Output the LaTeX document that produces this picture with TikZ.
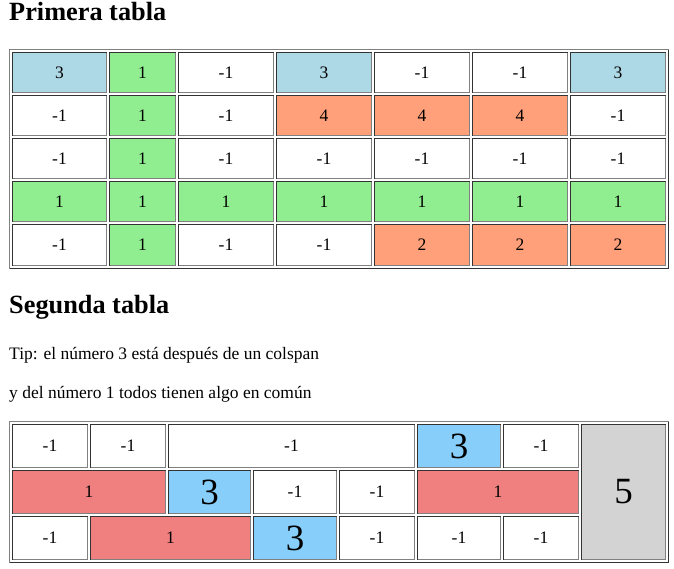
\documentclass[tikz,border=0pt]{standalone}
\usepackage{fontspec}
\setmainfont{Liberation Serif}
\usepackage{tikz}
\definecolor{tblue}{RGB}{173,216,230}
\definecolor{tgreen}{RGB}{144,238,144}
\definecolor{tsalmon}{RGB}{255,160,122}
\definecolor{tcoral}{RGB}{240,128,128}
\definecolor{tsky}{RGB}{135,206,250}
\definecolor{tgray}{RGB}{211,211,211}
\newcommand{\bignum}{\fontsize{37}{40}\selectfont}
% name, x from, x to, y from, y to, fill, text
\newcommand{\tcell}[7]{%
	\node[cell, fill=#6, minimum width={#3-#2}, minimum height={#5-#4}] (#1)
		at ({(#2+#3)/2+0.5},{(#4+#5)/2+0.5}) {#7};}
\tikzset{
	cell/.style={
		rectangle, inner sep=0pt, outer sep=0pt, line width=1pt,
		draw=black!50, font=\fontsize{17.5}{20}\selectfont
	},
	%
	tableframe/.style={
		rectangle, inner sep=0pt, outer sep=0pt, line width=1pt,
		draw=black!50
	},
	%
	darkedge/.style={
		line width=1pt, draw=black!80
	},
	%
	heading/.style={
		anchor=base west, inner sep=0pt, font=\bfseries\fontsize{26.3}{30}\selectfont
	},
	%
	mytext/.style={
		anchor=base west, inner sep=0pt, font=\fontsize{17.5}{20}\selectfont
	}
}
\begin{document}
\begin{tikzpicture}[x=1pt,y=-1pt]
\useasboundingbox (0,0) rectangle (674,568);
\fill[white] (0,0) rectangle (674,568);

%texts
\node[heading] (title1) at (9,20.7) {Primera tabla};
\node[heading] (title2) at (9,313.3) {Segunda tabla};
\node[mytext] (tip1) at (9,359) {Tip: el número 3 está después de un colspan};
\node[mytext] (tip2) at (9,398.7) {y del número 1 todos tienen algo en común};

%first table
\node[tableframe, minimum width=659, minimum height=219] (tab1) at (339,159) {};
\draw[darkedge] (tab1.north east) -- (tab1.south east) -- (tab1.south west);

\tcell{a11}{12}{106}{52}{92}{tblue}{3}
\tcell{a12}{109}{175}{52}{92}{tgreen}{1}
\tcell{a13}{178}{273}{52}{92}{white}{-1}
\tcell{a14}{276}{371}{52}{92}{tblue}{3}
\tcell{a15}{374}{469}{52}{92}{white}{-1}
\tcell{a16}{472}{567}{52}{92}{white}{-1}
\tcell{a17}{570}{665}{52}{92}{tblue}{3}

\tcell{a21}{12}{106}{95}{135}{white}{-1}
\tcell{a22}{109}{175}{95}{135}{tgreen}{1}
\tcell{a23}{178}{273}{95}{135}{white}{-1}
\tcell{a24}{276}{371}{95}{135}{tsalmon}{4}
\tcell{a25}{374}{469}{95}{135}{tsalmon}{4}
\tcell{a26}{472}{567}{95}{135}{tsalmon}{4}
\tcell{a27}{570}{665}{95}{135}{white}{-1}

\tcell{a31}{12}{106}{138}{178}{white}{-1}
\tcell{a32}{109}{175}{138}{178}{tgreen}{1}
\tcell{a33}{178}{273}{138}{178}{white}{-1}
\tcell{a34}{276}{371}{138}{178}{white}{-1}
\tcell{a35}{374}{469}{138}{178}{white}{-1}
\tcell{a36}{472}{567}{138}{178}{white}{-1}
\tcell{a37}{570}{665}{138}{178}{white}{-1}

\tcell{a41}{12}{106}{181}{221}{tgreen}{1}
\tcell{a42}{109}{175}{181}{221}{tgreen}{1}
\tcell{a43}{178}{273}{181}{221}{tgreen}{1}
\tcell{a44}{276}{371}{181}{221}{tgreen}{1}
\tcell{a45}{374}{469}{181}{221}{tgreen}{1}
\tcell{a46}{472}{567}{181}{221}{tgreen}{1}
\tcell{a47}{570}{665}{181}{221}{tgreen}{1}

\tcell{a51}{12}{106}{224}{265}{white}{-1}
\tcell{a52}{109}{175}{224}{265}{tgreen}{1}
\tcell{a53}{178}{273}{224}{265}{white}{-1}
\tcell{a54}{276}{371}{224}{265}{white}{-1}
\tcell{a55}{374}{469}{224}{265}{tsalmon}{2}
\tcell{a56}{472}{567}{224}{265}{tsalmon}{2}
\tcell{a57}{570}{665}{224}{265}{tsalmon}{2}

\foreach \r in {1,...,5}
	\foreach \k in {1,...,7}
		\draw[darkedge] (a\r\k.south west) -- (a\r\k.north west) -- (a\r\k.north east);

%second table
\node[tableframe, minimum width=659, minimum height=141] (tab2) at (339,492) {};
\draw[darkedge] (tab2.north east) -- (tab2.south east) -- (tab2.south west);

\tcell{b11}{12}{87}{424}{467}{white}{-1}
\tcell{b12}{90}{165}{424}{467}{white}{-1}
\tcell{b13}{168}{414}{424}{467}{white}{-1}
\tcell{b14}{417}{500}{424}{467}{tsky}{\bignum 3}
\tcell{b15}{503}{578}{424}{467}{white}{-1}
\tcell{b16}{581}{665}{424}{559}{tgray}{\bignum 5}

\tcell{b21}{12}{165}{470}{513}{tcoral}{1}
\tcell{b22}{168}{250}{470}{513}{tsky}{\bignum 3}
\tcell{b23}{253}{336}{470}{513}{white}{-1}
\tcell{b24}{339}{414}{470}{513}{white}{-1}
\tcell{b25}{417}{578}{470}{513}{tcoral}{1}

\tcell{b31}{12}{87}{516}{559}{white}{-1}
\tcell{b32}{90}{250}{516}{559}{tcoral}{1}
\tcell{b33}{253}{336}{516}{559}{tsky}{\bignum 3}
\tcell{b34}{339}{414}{516}{559}{white}{-1}
\tcell{b35}{417}{500}{516}{559}{white}{-1}
\tcell{b36}{503}{578}{516}{559}{white}{-1}

\foreach \c in {b11,b12,b13,b14,b15,b16,b21,b22,b23,b24,b25,b31,b32,b33,b34,b35,b36}
	\draw[darkedge] (\c.south west) -- (\c.north west) -- (\c.north east);

\end{tikzpicture}
\end{document}
